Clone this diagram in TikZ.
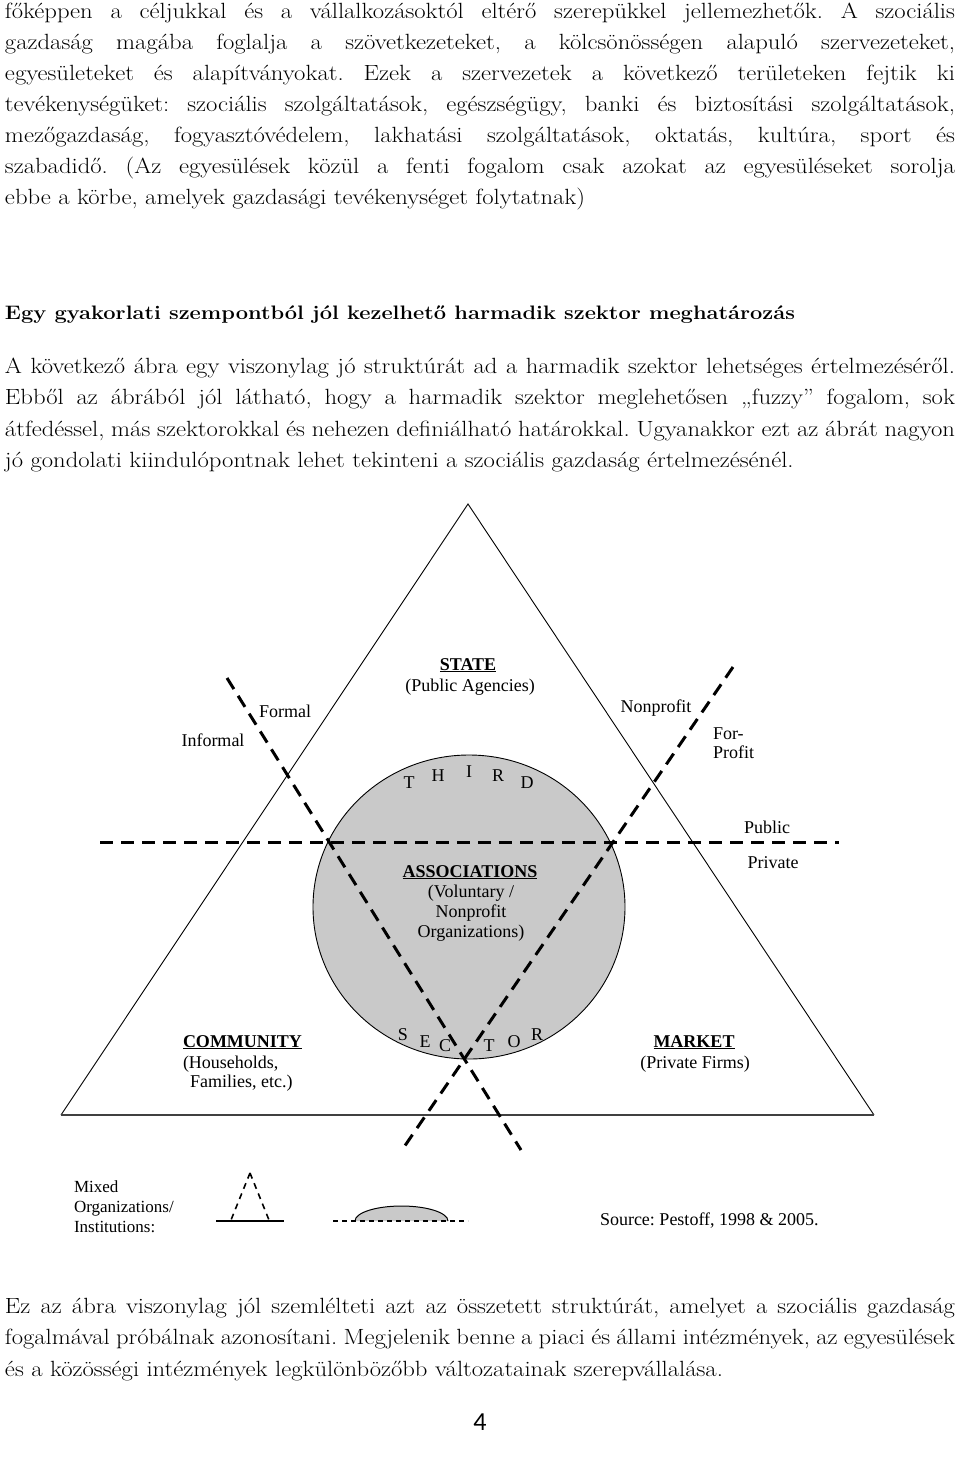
\documentclass[tikz,border=0pt]{standalone}
\usepackage{fontspec}
\setmainfont{Latin Modern Roman}[FakeStretch=1.12]
\newfontfamily\figfont{Liberation Serif}
\newfontfamily\numfont{Carlito}
\usetikzlibrary{positioning,calc}

\newcommand{\jline}[1]{\hbox to 950pt{#1}}
\frenchspacing

\begin{document}
\begin{tikzpicture}[x=1pt,y=-1pt]

\tikzset{every node/.style = {inner sep=0pt, outer sep=0pt}}
\tikzset{txt/.style = {anchor=base west, font=\fontsize{22}{31}\selectfont}}
\tikzset{lbl/.style = {anchor=base, font=\figfont\fontsize{18}{20}\selectfont}}
\tikzset{lgd/.style = {anchor=base west, font=\figfont\fontsize{17}{19}\selectfont}}
\tikzset{arcl/.style = {font=\figfont\fontsize{18}{20}\selectfont}}
\tikzset{divide/.style = {line width=3pt, dash pattern=on 13pt off 8pt}}
\tikzset{side/.style = {line width=0.9pt}}
\tikzset{legdash/.style = {line width=1.6pt, dash pattern=on 6pt off 5pt}}
\tikzset{legdot/.style = {line width=2.5pt, dash pattern=on 5pt off 4pt}}

\useasboundingbox (0,0) rectangle (960,1460);

% text above the figure
\node[txt] (p1a) at (5,18)  {\jline{főképpen a céljukkal és a vállalkozásoktól eltérő szerepükkel jellemezhetők. A szociális}};
\node[txt] (p1b) at (5,49)  {\jline{gazdaság magába foglalja a szövetkezeteket, a kölcsönösségen alapuló szervezeteket,}};
\node[txt] (p1c) at (5,80)  {\jline{egyesületeket és alapítványokat. Ezek a szervezetek a következő területeken fejtik ki}};
\node[txt] (p1d) at (5,111) {\jline{tevékenységüket: szociális szolgáltatások, egészségügy, banki és biztosítási szolgáltatások,}};
\node[txt] (p1e) at (5,142) {\jline{mezőgazdaság, fogyasztóvédelem, lakhatási szolgáltatások, oktatás, kultúra, sport és}};
\node[txt] (p1f) at (5,173) {\jline{szabadidő. (Az egyesülések közül a fenti fogalom csak azokat az egyesüléseket sorolja}};
\node[txt] (p1g) at (5,204) {ebbe a körbe, amelyek gazdasági tevékenységet folytatnak)};

\node[txt, font=\bfseries\fontsize{19.5}{31}\selectfont] (head) at (5,319) {Egy gyakorlati szempontból jól kezelhető harmadik szektor meghatározás};

\node[txt] (p2a) at (5,373) {\jline{A következő ábra egy viszonylag jó struktúrát ad a harmadik szektor lehetséges értelmezéséről.}};
\node[txt] (p2b) at (5,404) {\jline{Ebből az ábrából jól látható, hogy a harmadik szektor meglehetősen „fuzzy” fogalom, sok}};
\node[txt] (p2c) at (5,436) {\jline{átfedéssel, más szektorokkal és nehezen definiálható határokkal. Ugyanakkor ezt az ábrát nagyon}};
\node[txt] (p2d) at (5,467) {jó gondolati kiindulópontnak lehet tekinteni a szociális gazdaság értelmezésénél.};

% the triangle
\coordinate (apex) at (468,504);
\coordinate (lft)  at (61,1115);
\coordinate (rgt)  at (874,1115);
\coordinate (ctr)  at (469,907);

\draw[fill=black!21, line width=0.9pt] (ctr) ellipse [x radius=156, y radius=152];
\draw[side] (lft) -- (apex) -- (rgt);
\draw[line width=1.6pt, black!75] (lft) -- (rgt);

\coordinate (hl_a) at (100,842);
\coordinate (hl_b) at (839,842);
\coordinate (dl_a) at (227,678);
\coordinate (dl_b) at (521,1150);
\coordinate (dr_a) at (733,667);
\coordinate (dr_b) at (402,1150);

\draw[divide] (hl_a) -- (hl_b);
\draw[divide] (dl_a) -- (dl_b);
\draw[divide] (dr_a) -- (dr_b);

\node[lbl] (state)    at (468,670)  {\underline{\textbf{STATE}}};
\node[lbl] (pubag)    at (470,691)  {(Public Agencies)};
\node[lbl] (formal)   at (285,717)  {Formal};
\node[lbl] (informal) at (213,746)  {Informal};
\node[lbl] (nonprof)  at (656,712)  {Nonprofit};
\node[lgd, font=\figfont\fontsize{18}{20}\selectfont] (forp)  at (713,739) {For-};
\node[lgd, font=\figfont\fontsize{18}{20}\selectfont] (profit) at (713,758) {Profit};
\node[lbl] (public)   at (767,833)  {Public};
\node[lbl] (private)  at (773,868)  {Private};

\node[lbl] (assoc)    at (470,877)  {\underline{\textbf{ASSOCIATIONS}}};
\node[lbl] (volunt)   at (471,897)  {(Voluntary /};
\node[lbl] (nonprof2) at (471,917)  {Nonprofit};
\node[lbl] (orgs)     at (471,937)  {Organizations)};

\foreach \ch/\x/\y [count=\i] in {T/409/783, H/438/776, I/469/772, R/498/776, D/527/783}
  \node[arcl] (third\i) at (\x,\y) {\ch};
\foreach \ch/\x/\y [count=\i] in {S/403/1035, E/425/1042, C/445/1046, T/489/1046, O/514/1042, R/537/1035}
  \node[arcl] (sector\i) at (\x,\y) {\ch};

\node[lgd, font=\figfont\fontsize{18}{20}\selectfont] (comm)  at (183,1047) {\underline{\textbf{COMMUNITY}}};
\node[lgd, font=\figfont\fontsize{18}{20}\selectfont] (house) at (183,1068) {(Households,};
\node[lgd, font=\figfont\fontsize{18}{20}\selectfont] (famil) at (190,1087) {Families, etc.)};

\node[lbl] (market)   at (694,1047) {\underline{\textbf{MARKET}}};
\node[lbl] (firms)    at (695,1068) {(Private Firms)};

% legend
\node[lgd] (mixed) at (74,1192) {Mixed};
\node[lgd] (orgn)  at (74,1212) {Organizations/};
\node[lgd] (inst)  at (74,1232) {Institutions:};

\coordinate (ltop) at (250,1173);
\draw[line width=2.5pt] (216,1221) -- (284,1221);
\draw[legdash] (ltop) -- (231,1220);
\draw[legdash] (ltop) -- (269,1220);

\draw[fill=black!21, line width=1pt] (355,1221) arc[start angle=180, end angle=360, x radius=46.5, y radius=15];
\draw[legdot] (333,1221) -- (468,1221);

\node[lgd, font=\figfont\fontsize{18}{20}\selectfont] (src) at (600,1225) {Source: Pestoff, 1998 \& 2005.};

% text below the figure
\node[txt] (p3a) at (5,1313) {\jline{Ez az ábra viszonylag jól szemlélteti azt az összetett struktúrát, amelyet a szociális gazdaság}};
\node[txt] (p3b) at (5,1344) {\jline{fogalmával próbálnak azonosítani. Megjelenik benne a piaci és állami intézmények, az egyesülések}};
\node[txt] (p3c) at (5,1376) {és a közösségi intézmények legkülönbözőbb változatainak szerepvállalása.};

\node[anchor=base, font=\numfont\fontsize{26}{28}\selectfont] (pgnum) at (480,1430) {4};

\end{tikzpicture}
\end{document}
